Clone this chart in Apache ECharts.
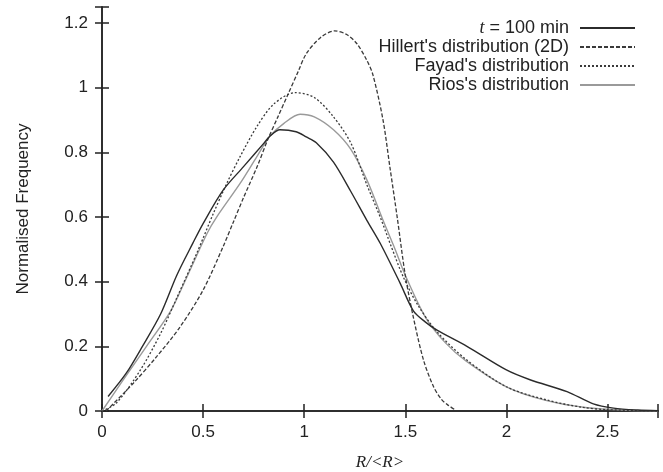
<!DOCTYPE html>
<html>
<head>
<meta charset="utf-8">
<script src="https://cdn.jsdelivr.net/npm/echarts@6/dist/echarts.min.js"></script>
<style>html,body{margin:0;padding:0;background:#fff}#c{width:663px;height:472px}</style>
</head>
<body>
<div id="c"></div>
<script>
var seriesNames = ['t = 100 min', "Hillert's distribution (2D)", "Fayad's distribution", "Rios's distribution"];
var xTicks = [0, 0.5, 1, 1.5, 2, 2.5];
var yTicks = [0, 0.2, 0.4, 0.6, 0.8, 1, 1.2];

var tX = [0.03,0.12,0.2,0.29,0.37,0.45,0.5,0.6,0.7,0.8,0.83,0.88,0.96,1.01,1.06,1.145,1.23,1.31,1.376,1.475,1.54,1.6,1.657,1.805,2.0,2.12,2.3,2.43,2.53,2.65,2.75];
var tY = [0.045,0.117,0.2,0.3,0.42,0.52,0.58,0.684,0.756,0.828,0.85,0.87,0.864,0.848,0.83,0.77,0.68,0.59,0.519,0.395,0.31,0.275,0.25,0.2,0.127,0.096,0.06,0.022,0.009,0.003,0.001];

var hX = [0.02,0.155,0.27,0.386,0.5,0.6,0.65,0.7,0.77,0.82,0.87,0.92,0.97,1.01,1.08,1.15,1.21,1.26,1.31,1.34,1.39,1.425,1.46,1.5,1.54,1.59,1.64,1.68,1.71,1.75];
var hY = [0,0.086,0.168,0.26,0.374,0.51,0.585,0.66,0.76,0.84,0.91,0.98,1.05,1.105,1.155,1.176,1.165,1.137,1.085,1.04,0.9,0.75,0.6,0.42,0.29,0.158,0.075,0.035,0.019,0.002];

var fX = [0,0.07,0.19,0.29,0.37,0.47,0.55,0.617,0.683,0.766,0.85,0.955,1.05,1.145,1.23,1.31,1.376,1.43,1.49,1.56,1.657,1.8,2.0,2.2,2.37,2.5,2.75];
var fY = [0,0.024,0.127,0.24,0.35,0.49,0.61,0.704,0.787,0.88,0.95,0.985,0.97,0.91,0.83,0.70,0.60,0.51,0.415,0.33,0.245,0.16,0.075,0.034,0.012,0.004,0];

var rX = [0,0.105,0.22,0.34,0.42,0.52,0.567,0.683,0.766,0.83,0.9,0.98,1.05,1.145,1.23,1.31,1.39,1.45,1.5,1.6,1.7,1.8,2.0,2.2,2.4,2.6,2.75];
var rY = [0,0.096,0.2,0.31,0.415,0.55,0.6,0.704,0.787,0.85,0.89,0.918,0.91,0.87,0.81,0.715,0.59,0.5,0.42,0.29,0.21,0.155,0.075,0.032,0.01,0.002,0];

function pairs(xs, ys) { return xs.map(function (x, i) { return [x, ys[i]]; }); }

var chart = echarts.init(document.getElementById('c'), null, {renderer: 'canvas'});
var fontMain = 'Liberation Sans, Arial, sans-serif';
var axisCommon = {
  axisLine: {show: true, lineStyle: {color: '#222', width: 1.5}},
  axisTick: {show: true, inside: true, length: 7, lineStyle: {color: '#222', width: 1.5}},
  splitLine: {show: false}
};
function fmtX(v) { return xTicks.indexOf(v) >= 0 ? String(v) : ''; }
function fmtY(v) { var r = Math.round(v * 10) / 10; return (Math.abs(v - r) < 1e-9 && yTicks.indexOf(r) >= 0) ? String(r) : ''; }

var lineStyles = [
  {color: '#2b2b2b', width: 1.4, type: 'solid'},
  {color: '#3a3a3a', width: 1.3, type: [4, 2]},
  {color: '#3a3a3a', width: 1.3, type: [2, 2]},
  {color: '#9a9a9a', width: 1.4, type: 'solid'}
];
var datasets = [pairs(tX, tY), pairs(hX, hY), pairs(fX, fY), pairs(rX, rY)];

chart.setOption({
  animation: false,
  backgroundColor: '#fff',
  grid: {left: 102, right: 5, top: 7, bottom: 61, outerBoundsMode: 'none', containLabel: false},
  legend: {
    orient: 'vertical',
    align: 'right',
    right: 22,
    top: 14,
    itemWidth: 55,
    itemHeight: 10,
    itemGap: 1,
    selectedMode: false,
    itemStyle: {opacity: 0},
    data: seriesNames,
    textStyle: {
      fontFamily: fontMain, fontSize: 18, color: '#222', lineHeight: 18, padding: [0, 6, 0, 0],
      rich: {i: {fontFamily: 'Liberation Serif, Times New Roman, serif', fontStyle: 'italic', fontSize: 18, color: '#222'}}
    },
    formatter: function (n) { return n === seriesNames[0] ? '{i|t} = 100 min' : n; }
  },
  xAxis: [
    Object.assign({
      type: 'value', min: 0, max: 2.75, interval: 0.5, position: 'bottom',
      name: 'R/<R>', nameLocation: 'middle', nameGap: 43,
      nameTextStyle: {fontFamily: 'Liberation Serif, Times New Roman, serif', fontStyle: 'italic', fontSize: 17, color: '#222'},
      axisLabel: {formatter: fmtX, margin: 13, fontFamily: fontMain, fontSize: 17, color: '#222'}
    }, axisCommon),
    Object.assign({
      type: 'value', min: 0, max: 2.75, interval: 0.5, position: 'top',
      axisLabel: {show: false}
    }, axisCommon)
  ],
  yAxis: [
    Object.assign({
      type: 'value', min: 0, max: 1.25, interval: 0.2, position: 'left',
      name: 'Normalised Frequency', nameLocation: 'middle', nameGap: 70,
      nameTextStyle: {fontFamily: fontMain, fontSize: 17, color: '#222'},
      axisLabel: {formatter: fmtY, margin: 14, fontFamily: fontMain, fontSize: 17, color: '#222'}
    }, axisCommon),
    Object.assign({
      type: 'value', min: 0, max: 1.25, interval: 0.2, position: 'right',
      axisLabel: {show: false}
    }, axisCommon)
  ],
  series: seriesNames.map(function (n, i) {
    return {
      name: n, type: 'line', xAxisIndex: 0, yAxisIndex: 0,
      data: datasets[i], showSymbol: false, symbol: 'none',
      smooth: 0.3,
      lineStyle: lineStyles[i], itemStyle: {color: lineStyles[i].color},
      z: 4 - i
    };
  })
});
</script>
</body>
</html>
